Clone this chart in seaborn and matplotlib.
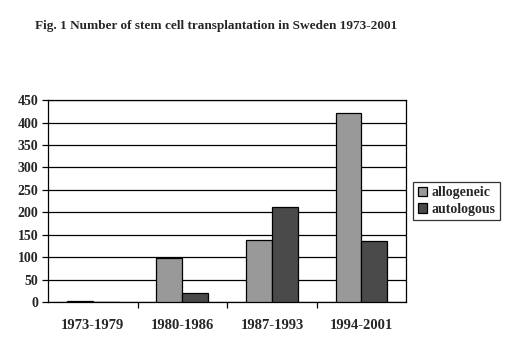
import matplotlib
matplotlib.use("Agg")
import matplotlib.pyplot as plt
import seaborn as sns
import pandas as pd
from matplotlib.ticker import FixedLocator

periods = ["1973-1979", "1980-1986", "1987-1993", "1994-2001"]
allogeneic = [3, 99, 139, 421]
autologous = [0, 20, 212, 136]
series_names = ["allogeneic", "autologous"]
colors = ["#999999", "#4a4a4a"]
y_ticks = [0, 50, 100, 150, 200, 250, 300, 350, 400, 450]

df = pd.DataFrame({
    "period": periods * 2,
    "count": allogeneic + autologous,
    "type": [series_names[0]] * 4 + [series_names[1]] * 4,
})

sns.set_style("white")
plt.rcParams["font.family"] = ["Liberation Serif", "DejaVu Serif"]
plt.rcParams["font.weight"] = "bold"

fig = plt.figure(figsize=(5.2, 3.44), dpi=100)
ax = fig.add_axes([0.0923, 0.122, 0.689, 0.587])

sns.barplot(data=df, x="period", y="count", hue="type", palette=colors,
            width=0.58, gap=0, edgecolor="black", linewidth=0.9,
            saturation=1, ax=ax, zorder=3)

ax.set_ylim(0, 450)
ax.set_xlim(-0.5, 3.5)
ax.set_yticks(y_ticks)
ax.yaxis.grid(True, color="black", linewidth=0.9, zorder=0)
ax.set_axisbelow(True)
ax.set_xlabel("")
ax.set_ylabel("")
for s in ax.spines.values():
    s.set_color("black")
    s.set_linewidth(0.9)

ax.tick_params(axis="y", which="major", left=True, length=4, width=0.9,
               color="black", labelsize=10, pad=3)
ax.tick_params(axis="x", which="major", bottom=False, labelsize=10.5, pad=9)
ax.xaxis.set_minor_locator(FixedLocator([0.5, 1.5, 2.5]))
ax.tick_params(axis="x", which="minor", bottom=True, length=4, width=0.9,
               color="black", direction="out")
for lbl in ax.get_xticklabels() + ax.get_yticklabels():
    lbl.set_fontweight("bold")

leg = ax.legend(loc="center left", bbox_to_anchor=(1.02, 0.5), frameon=True,
                fancybox=False, edgecolor="black", fontsize=10,
                handlelength=0.7, handleheight=0.7, handletextpad=0.3,
                borderpad=0.3, labelspacing=0.25, borderaxespad=0)
leg.get_frame().set_linewidth(0.9)
for t in leg.get_texts():
    t.set_fontweight("bold")

fig.text(0.068, 0.924, "Fig. 1 Number of stem cell transplantation in Sweden 1973-2001",
         fontsize=9.5, fontweight="bold", ha="left", va="center")

fig.savefig("out.png", dpi=100, facecolor="white")
